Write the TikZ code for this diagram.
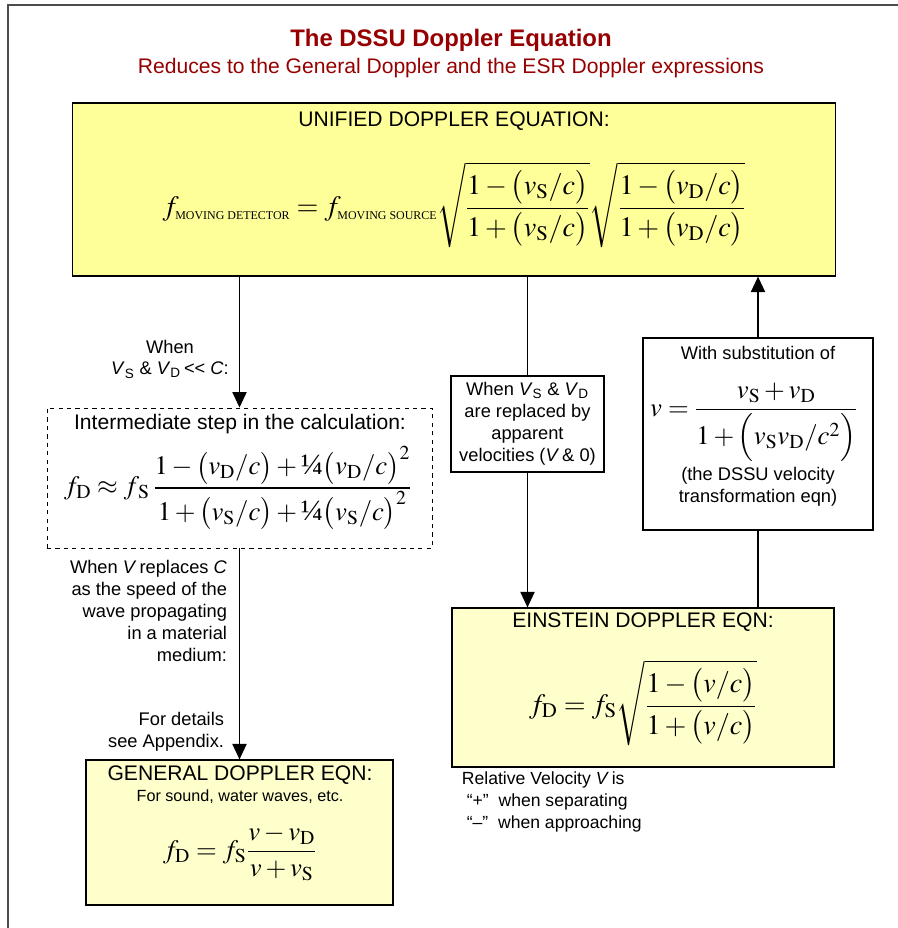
\documentclass[tikz,border=0pt]{standalone}
\usepackage{mathptmx}
\usepackage[no-math]{fontspec}
\setmainfont{Liberation Sans}
\newfontfamily\timesfont{Liberation Serif}
\usepackage{amsmath}
\usetikzlibrary{arrows.meta,shadows}

\definecolor{dsred}{RGB}{150,0,0}
\definecolor{dsyellow}{RGB}{255,255,153}
\definecolor{dspale}{RGB}{255,255,204}

\newcommand{\vS}{v_{\mathrm{S}}}
\newcommand{\vD}{v_{\mathrm{D}}}
\newcommand{\tV}[1]{\textit{V}\textsubscript{#1}}
\newcommand{\capsub}[1]{\hbox{\timesfont\fontsize{8.5}{10}\selectfont #1}}
\newcommand{\qtr}{\hbox{\timesfont\fontsize{21}{24}\selectfont ¼}}

\tikzset{
    box/.style={draw, line width=0.8pt, inner sep=0pt,
        drop shadow={shadow xshift=0.7pt, shadow yshift=-0.7pt, fill=black!35}},
    ylbox/.style={box, fill=dsyellow},
    palebox/.style={box, fill=dspale},
    whitebox/.style={box, fill=white},
    dashbox/.style={draw, dashed, line width=0.6pt, inner sep=0pt},
    head/.style={font=\fontsize{15}{18}\selectfont, inner sep=0pt},
    note/.style={font=\fontsize{13}{15.6}\selectfont},
    eqn/.style={inner sep=0pt},
    link/.style={line width=1.2pt, -{Triangle[width=10pt,length=11pt]}},
    plain/.style={line width=1.2pt}
}

\begin{document}
\begin{tikzpicture}[x=0.025cm, y=-0.025cm]
    \useasboundingbox (0,0) rectangle (898,928);
    \draw[black!70, line width=0.8pt] (8,928) -- (8,5) -- (898,5);

    % title
    \node[text=dsred, font=\fontsize{17}{20}\selectfont\bfseries] (title) at (451,40) {The DSSU Doppler Equation};
    \node[text=dsred, font=\fontsize{15}{18}\selectfont] (subtitle) at (451,68) {Reduces to the General Doppler and the ESR Doppler expressions};

    % boxes
    \node[ylbox, minimum width=19.05cm, minimum height=4.325cm] (unified) at (454,189.5) {};
    \node[dashbox, minimum width=9.625cm, minimum height=3.5cm] (interm) at (239.5,478) {};
    \node[whitebox, note, align=center, minimum width=3.825cm, minimum height=2.4cm] (apparent) at (527.5,424)
        {When \tV{S} \& \tV{D}\\are replaced by\\apparent\\velocities (\textit{V}\,\& 0)};
    \node[whitebox, minimum width=5.75cm, minimum height=4.8cm] (subst) at (758,434) {};
    \node[palebox, minimum width=9.55cm, minimum height=3.975cm] (einstein) at (643,687.5) {};
    \node[palebox, minimum width=7.675cm, minimum height=3.625cm] (general) at (239.5,832.5) {};

    % unified equation
    \node[head] (unihead) at (454,121) {UNIFIED DOPPLER EQUATION:};
    \node[eqn, font=\fontsize{20}{24}\selectfont] (unieq) at (454,205)
        {$\displaystyle f_{\capsub{MOVING DETECTOR}} = f_{\capsub{MOVING SOURCE}}
        \sqrt{\frac{1-\bigl(\vS/c\bigr)}{1+\bigl(\vS/c\bigr)}}
        \sqrt{\frac{1-\bigl(\vD/c\bigr)}{1+\bigl(\vD/c\bigr)}}$};

    % intermediate step
    \node[head] (inthead) at (240,424) {Intermediate step in the calculation:};
    \node[eqn, font=\fontsize{19}{23}\selectfont] (inteq) at (238,488)
        {$\displaystyle f_{\mathrm{D}} \approx f_{\,\mathrm{S}}\,
        \frac{1-\bigl(\vD/c\bigr)+\qtr\bigl(\vD/c\bigr)^2}{1+\bigl(\vS/c\bigr)+\qtr\bigl(\vS/c\bigr)^2}$};

    % substitution
    \node[note] (substhead) at (758,353) {With substitution of};
    \node[eqn, font=\fontsize{19}{23}\selectfont] (substeq) at (754,422)
        {$\displaystyle v = \frac{\vS+\vD}{1+\Bigl(\vS\vD/c^{2}\Bigr)}$};
    \node[note, align=center] (substnote) at (758,487) {(the DSSU velocity\\transformation eqn)};

    % einstein
    \node[head] (einhead) at (643,622) {EINSTEIN DOPPLER EQN:};
    \node[eqn, font=\fontsize{20}{24}\selectfont] (eineq) at (643,703)
        {$\displaystyle f_{\mathrm{D}} = f_{\mathrm{S}}\sqrt{\frac{1-\bigl(v/c\bigr)}{1+\bigl(v/c\bigr)}}$};
    \node[font=\fontsize{12.5}{15.5}\selectfont, align=left, anchor=west] (relnote) at (457,802)
        {Relative Velocity \textit{V}\,is\\\ “+”\ \ when separating\\\ “–”\ \ when approaching};

    % general
    \node[head] (genhead) at (240,775) {GENERAL DOPPLER EQN:};
    \node[font=\fontsize{11.5}{14}\selectfont, inner sep=0pt] (gensub) at (240,797) {For sound, water waves, etc.};
    \node[eqn, font=\fontsize{19}{23}\selectfont] (geneq) at (240,853)
        {$\displaystyle f_{\mathrm{D}} = f_{\mathrm{S}}\frac{v-\vD}{v+\vS}$};

    % labels
    \node[note, align=center] (lowvel) at (170,359) {When\\\tV{S} \& \tV{D}\,<{}< \textit{C}:};
    \node[note, align=right, anchor=east] (medium) at (232,611)
        {When \textit{V}\,replaces \textit{C}\\as the speed of the\\wave propagating\\in a material\\medium:};
    \node[note, align=right, anchor=east] (details) at (229,732) {For details\\see Appendix.};

    % connectors
    \draw[link] (interm.north |- unified.south) -- (interm.north);
    \draw[link] (interm.south) -- (general.north);
    \draw[plain] (apparent.north |- unified.south) -- (apparent.north);
    \draw[link] (apparent.south) -- (apparent.south |- einstein.north);
    \draw[plain] (subst.south |- einstein.north) -- (subst.south);
    \draw[link] (subst.north) -- (subst.north |- unified.south);
\end{tikzpicture}
\end{document}
